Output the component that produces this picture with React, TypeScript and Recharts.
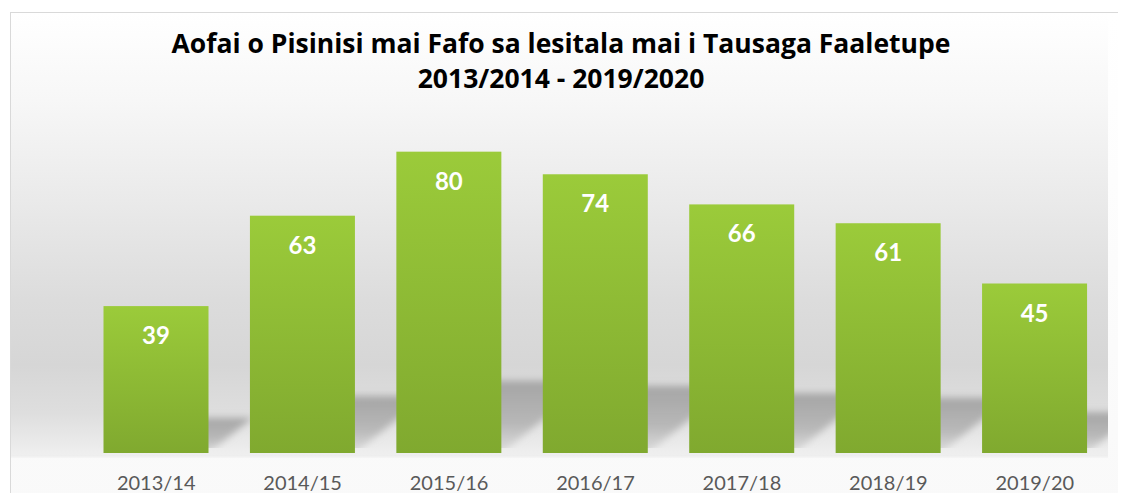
import React from "react";
import { BarChart, Bar, XAxis, YAxis, LabelList } from "recharts";

const categories = ["2013/14", "2014/15", "2015/16", "2016/17", "2017/18", "2018/19", "2019/20"];
const values = [39, 63, 80, 74, 66, 61, 45];
const titleLines = [
  "Aofai o Pisinisi mai Fafo sa lesitala mai i Tausaga Faaletupe",
  "2013/2014 - 2019/2020",
];

const data = categories.map((c, i) => ({ name: c, value: values[i] }));

const CHART_W = 1118;
const CHART_H = 485;
const MARGIN = { top: 106, right: 18, bottom: 10, left: 75 };

const BarWithShadow = (props: any) => {
  const { x, y, width, height } = props;
  if (!height || height <= 0) return null;
  const base = y + height;
  const sh = height * 0.24;
  const shift = sh * 1.25;
  return (
    <g>
      <polygon
        points={`${x},${base} ${x + width},${base} ${x + width + shift},${base - sh} ${x + shift},${base - sh}`}
        fill="url(#shadowGrad)"
        filter="url(#shadowBlur)"
        clipPath="url(#plotClip)"
      />
      <rect x={x} y={y} width={width} height={height} fill="url(#barGrad)" />
    </g>
  );
};

export default function App() {
  return (
    <div style={{ position: "relative", width: CHART_W, height: CHART_H, overflow: "hidden" }}>
      <div
        style={{
          position: "absolute",
          left: 2,
          top: 4,
          width: 1200,
          height: 600,
          border: "1px solid #d9d9d9",
          background: "linear-gradient(to bottom, #ffffff 0px, #f9f9f9 500px)",
        }}
      />
      <div
        style={{
          position: "absolute",
          left: 3,
          top: 5,
          width: 1097,
          height: 442,
          background:
            "linear-gradient(to bottom, #ffffff 0px, #f7f7f7 87px, #eaeaea 187px, #dcdcdc 287px, #d6d6d6 352px, #dedede 400px, #e8e8e8 425px, #efefef 442px)",
        }}
      />
      <div
        style={{
          position: "absolute",
          left: 3,
          top: 447,
          width: 1097,
          height: 3,
          background: "linear-gradient(to bottom, #ececec, #f6f6f6)",
        }}
      />
      <div
        style={{
          position: "absolute",
          left: 0,
          width: 1106,
          top: 18,
          textAlign: "center",
          fontFamily: "'Open Sans', sans-serif",
          fontWeight: 700,
          fontSize: 26.5,
          lineHeight: "35px",
          color: "#000000",
        }}
      >
        <div>{titleLines[0]}</div>
        <div>{titleLines[1]}</div>
      </div>
      <div style={{ position: "absolute", left: 0, top: 0 }}>
        <BarChart width={CHART_W} height={CHART_H} data={data} margin={MARGIN} barCategoryGap="14%">
          <defs>
            <linearGradient id="barGrad" x1="0" y1="0" x2="0" y2="1">
              <stop offset="0%" stopColor="#9bcb3a" />
              <stop offset="100%" stopColor="#80a92f" />
            </linearGradient>
            <linearGradient id="shadowGrad" x1="0" y1="0" x2="0" y2="1">
              <stop offset="0%" stopColor="#a2a2a2" stopOpacity={0.95} />
              <stop offset="60%" stopColor="#adadad" stopOpacity={0.8} />
              <stop offset="100%" stopColor="#c8c8c8" stopOpacity={0.45} />
            </linearGradient>
            <filter id="shadowBlur" x="-20%" y="-30%" width="140%" height="160%">
              <feGaussianBlur stdDeviation="3.5" />
            </filter>
            <clipPath id="plotClip">
              <rect x={0} y={0} width={1100} height={440} />
            </clipPath>
          </defs>
          <YAxis hide domain={[0, 90]} />
          <XAxis
            dataKey="name"
            axisLine={false}
            tickLine={false}
            tickSize={0}
            tickMargin={23}
            height={30}
            interval={0}
            tick={{ fill: "#595959", fontSize: 20, fontFamily: "Lato, 'Open Sans', sans-serif" }}
          />
          <Bar dataKey="value" isAnimationActive={false} shape={<BarWithShadow />}>
            <LabelList
              dataKey="value"
              position="insideTop"
              offset={21}
              fill="#ffffff"
              fontSize={24}
              fontWeight={700}
              fontFamily="Lato, 'Open Sans', sans-serif"
            />
          </Bar>
        </BarChart>
      </div>
    </div>
  );
}
